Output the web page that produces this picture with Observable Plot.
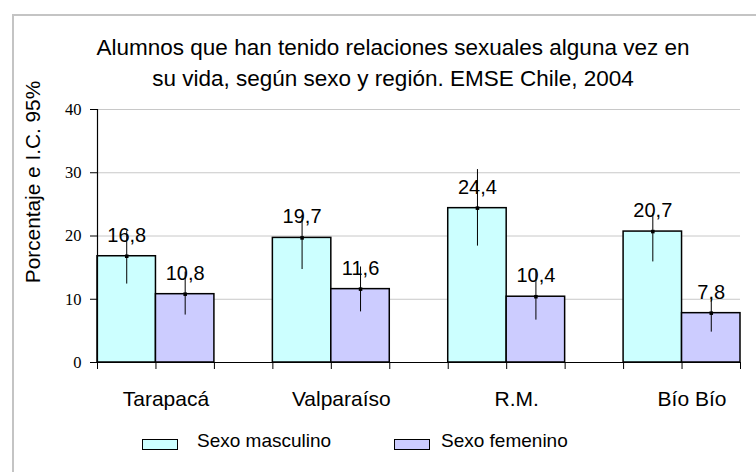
<!DOCTYPE html>
<html>
<head>
<meta charset="utf-8">
<script src="https://cdn.jsdelivr.net/npm/d3@7"></script>
<script src="https://cdn.jsdelivr.net/npm/@observablehq/plot@0.6"></script>
<style>
  html, body { margin: 0; padding: 0; background: #fff; }
  #wrap { position: relative; width: 756px; height: 472px; overflow: hidden; font-family: "Liberation Sans", Arial, sans-serif; }
  #frame { position: absolute; left: 12px; top: 14px; width: 800px; height: 520px; border: 2px solid #c4c4c4; box-sizing: border-box; }
  #title { position: absolute; left: 0; width: 786px; top: 32px; text-align: center; font-size: 22.5px; line-height: 31px; color: #000; }
  #ylabel { position: absolute; left: 33px; top: 182px; font-size: 20.8px; white-space: nowrap; transform: translate(-50%, -50%) rotate(-90deg); color: #000; }
  #chart { position: absolute; left: 0; top: 0; }
  #chart .serif, #chart .serif text { font-family: "Liberation Serif", "Times New Roman", serif !important; }
  .leg { position: absolute; top: 439px; width: 34px; height: 9px; border: 1.5px solid #000; }
  .legt { position: absolute; top: 430px; font-size: 19px; color: #000; }
</style>
</head>
<body>
<div id="wrap">
  <div id="frame"></div>
  <div id="chart"></div>
  <div id="title"></div>
  <div id="ylabel"></div>
  <div id="legend"></div>
</div>
<script>
const titleLines = ["Alumnos que han tenido relaciones sexuales alguna vez en", "su vida, según sexo y región. EMSE Chile, 2004"];
const yLabel = "Porcentaje e I.C. 95%";
const regions = ["Tarapacá", "Valparaíso", "R.M.", "Bío Bío"];
const sexes = ["Sexo masculino", "Sexo femenino"];
const masculino = [16.8, 19.7, 24.4, 20.7];
const femenino = [10.8, 11.6, 10.4, 7.8];
const masculinoLo = [12.4, 14.7, 18.4, 15.9];
const masculinoHi = [20.7, 23.3, 30.5, 23.5];
const femeninoLo = [7.5, 8.0, 6.7, 4.8];
const femeninoHi = [14.3, 15.1, 14.6, 10.1];
const yTicks = [0, 10, 20, 30, 40];
const colors = ["#ccffff", "#ccccff"];

const sans = "Liberation Sans, Arial, sans-serif";
const serif = "Liberation Serif, Times New Roman, serif";

const series = [
  {value: masculino, lo: masculinoLo, hi: masculinoHi},
  {value: femenino, lo: femeninoLo, hi: femeninoHi}
];
const rows = [];
regions.forEach((region, i) => {
  sexes.forEach((sex, j) => {
    rows.push({region, sex, slot: 3 * i + j, value: series[j].value[i], lo: series[j].lo[i], hi: series[j].hi[i]});
  });
});
const labels = regions.map((region, i) => ({region, center: 3 * i + 1}));
const fmt = v => v.toFixed(1).replace(".", ",");
const nSlots = regions.length * 3 - 1;

const chart = Plot.plot({
  width: 756,
  height: 472,
  marginLeft: 97,
  marginRight: 16,
  marginTop: 109,
  marginBottom: 110,
  style: {background: "transparent", color: "#000"},
  x: {type: "linear", domain: [0, nSlots], axis: null},
  y: {domain: [0, 40], axis: null},
  color: {domain: sexes, range: colors},
  marks: [
    Plot.gridY(yTicks.filter(d => d > 0), {stroke: "#c8c8c8", strokeOpacity: 1, strokeWidth: 1}),
    Plot.axisY({ticks: yTicks, tickSize: 7, tickFormat: () => "", label: null}),
    Plot.text(yTicks, {y: d => d, frameAnchor: "left", dx: -16, textAnchor: "end", text: d => String(d), fontSize: 16.5, fontFamily: serif, className: "serif", fill: "#000"}),
    Plot.axisX({ticks: d3.range(nSlots + 1), tickSize: 7, tickFormat: () => "", label: null}),
    Plot.rectY(rows, {x1: "slot", x2: d => d.slot + 1, y: "value", fill: "sex", stroke: "#000", strokeWidth: 1.5}),
    Plot.ruleX(rows, {x: d => d.slot + 0.5, y1: "lo", y2: "hi", stroke: "#000", strokeWidth: 1}),
    Plot.dot(rows, {x: d => d.slot + 0.5, y: "value", symbol: "square", r: 2, fill: "#000", stroke: null}),
    Plot.ruleX([0], {y1: 0, y2: 40, stroke: "#000", strokeWidth: 1.2}),
    Plot.ruleY([0], {stroke: "#000", strokeWidth: 1.2}),
    Plot.text(rows, {x: d => d.slot + 0.5, y: "value", text: d => fmt(d.value), dy: -21, fontSize: 20, fontFamily: sans, fill: "#000"}),
    Plot.text(labels, {x: "center", frameAnchor: "bottom", text: "region", dy: 43, dx: 10, fontSize: 21, fontFamily: sans, fill: "#000"})
  ]
});
document.getElementById("chart").appendChild(chart);

// make sure y tick labels use the serif face
d3.select(chart).selectAll("text")
  .filter(function() { return this.getAttribute("text-anchor") === "end" || (this.parentNode && this.parentNode.getAttribute("text-anchor") === "end"); })
  .style("font-family", "'Liberation Serif', 'Times New Roman', serif");

document.getElementById("title").innerHTML = titleLines.join("<br>");
document.getElementById("ylabel").textContent = yLabel;

const legend = document.getElementById("legend");
const legPos = [{sw: 142, tx: 197}, {sw: 394, tx: 441}];
sexes.forEach((s, j) => {
  const sw = document.createElement("div");
  sw.className = "leg";
  sw.style.left = legPos[j].sw + "px";
  sw.style.background = colors[j];
  legend.appendChild(sw);
  const t = document.createElement("div");
  t.className = "legt";
  t.style.left = legPos[j].tx + "px";
  t.textContent = s;
  legend.appendChild(t);
});
</script>
</body>
</html>
